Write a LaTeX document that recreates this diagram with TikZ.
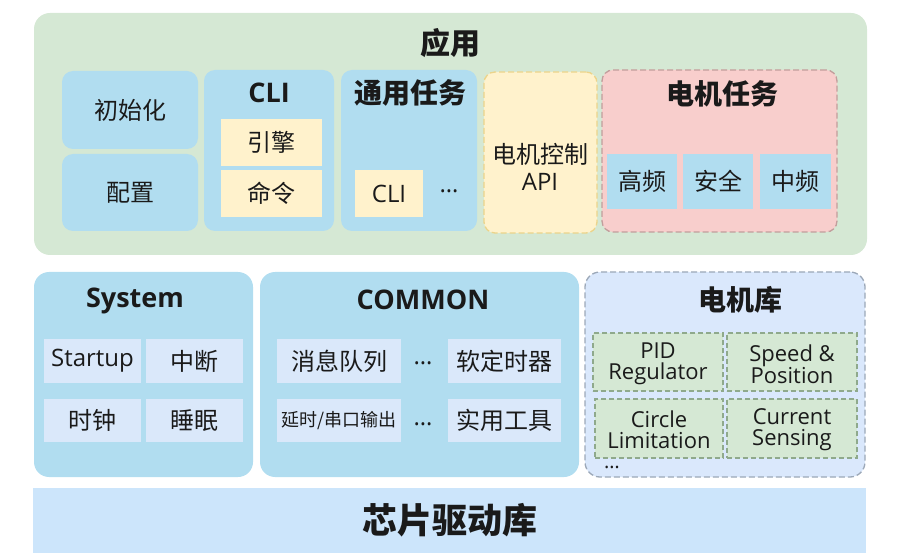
\documentclass[tikz,border=0pt]{standalone}
\usepackage{fontspec}
\setmainfont{Open Sans}
\newfontfamily\cjk{Noto Sans CJK SC}
\definecolor{cgreen}{HTML}{D5E8D4}
\definecolor{cblue}{HTML}{B1DDF0}
\definecolor{cyellow}{HTML}{FFF2CC}
\definecolor{cyellowline}{HTML}{ECD48A}
\definecolor{cpink}{HTML}{F8CECC}
\definecolor{cpinkline}{HTML}{C29E9C}
\definecolor{ccell}{HTML}{DAE8FA}
\definecolor{cml}{HTML}{DAE8FC}
\definecolor{cmlline}{HTML}{9CA8B8}
\definecolor{cmcell}{HTML}{D5E8D4}
\definecolor{cmcellline}{HTML}{8FA98C}
\definecolor{cchip}{HTML}{CCE5FB}
\definecolor{ctext}{HTML}{1A1A1A}
\newcommand\mybox[7]{%
  \node[#2,minimum width={(#5)-(#3)},minimum height={(#6)-(#4)}] (#1)
    at ({((#3)+(#5))/2},{((#4)+(#6))/2}) {#7};}
\begin{document}
\begin{tikzpicture}[x=1pt,y=-1pt,
  every node/.style={inner sep=0pt,outer sep=0pt,align=center,text=ctext},
  body/.style={font=\fontsize{24}{28}\selectfont},
  greenbg/.style={fill=cgreen,rounded corners=16pt},
  bluebox/.style={fill=cblue,rounded corners=11pt,body},
  ybox/.style={fill=cyellow,body},
  apibox/.style={fill=cyellow,draw=cyellowline,line width=1.3pt,dash pattern=on 6pt off 3pt,rounded corners=11pt},
  apitext/.style={font=\fontsize{24}{27}\selectfont},
  mtbox/.style={fill=cpink,draw=cpinkline,line width=1.3pt,dash pattern=on 6pt off 3pt,rounded corners=11pt},
  bluecell/.style={fill=cblue,body},
  bluebig/.style={fill=cblue,rounded corners=15pt},
  cell/.style={fill=ccell,body},
  mlbox/.style={fill=cml,draw=cmlline,line width=1.3pt,dash pattern=on 6pt off 3pt,rounded corners=15pt},
  mcell/.style={fill=cmcell,draw=cmcellline,line width=1.2pt,dash pattern=on 5pt off 3pt},
  mtext/.style={font=\fontsize{22}{21}\selectfont},
  chipbox/.style={fill=cchip,font=\fontsize{35}{38}\selectfont},
  title/.style={font=\fontsize{28}{32}\selectfont\bfseries},
  bigtitle/.style={font=\fontsize{30}{34}\selectfont\bfseries},
  title2/.style={font=\fontsize{27}{30}\selectfont\bfseries},
  dots/.style={font=\fontsize{24}{24}\selectfont},
  smalldots/.style={font=\fontsize{20}{20}\selectfont}]
\useasboundingbox (0,0) rectangle (900,556);
% application layer
\mybox{app}{greenbg}{34}{13}{867}{255}{}
\node[bigtitle] (appT) at (450,43) {\cjk 应用};
\mybox{init}{bluebox}{62}{71}{198}{149}{{\cjk 初始化}}
\mybox{cfg}{bluebox}{62}{154}{198}{231}{{\cjk 配置}}
\mybox{cli}{bluebox}{204}{70}{334}{231}{}
\node[title2] (cliT) at (269,93) {CLI};
\mybox{engine}{ybox}{221}{119}{322}{166}{{\cjk 引擎}}
\mybox{cmd}{ybox}{221}{170}{322}{217}{{\cjk 命令}}
\mybox{gen}{bluebox}{341}{70}{477}{231}{}
\node[title] (genT) at (410,93) {\cjk 通用任务};
\mybox{gencli}{ybox}{355}{170}{423}{217}{CLI}
\node[dots] (gendots) at (449,191) {…};
\mybox{api}{apibox}{484}{72}{597}{233}{}
\node[apitext] (apiT) at (540,167) {{\cjk 电机控制}\\API};
\mybox{mt}{mtbox}{602}{70}{837}{232}{}
\node[title] (mtT) at (722,94) {\cjk 电机任务};
\mybox{hf}{bluecell}{607}{154}{677}{209}{{\cjk 高频}}
\mybox{safe}{bluecell}{683}{154}{753}{209}{{\cjk 安全}}
\mybox{mf}{bluecell}{760}{154}{831}{209}{{\cjk 中频}}
% system
\mybox{sys}{bluebig}{34}{272}{253}{477}{}
\node[title2] (sysT) at (135,301) {System};
\mybox{startup}{cell}{44}{339}{141}{383}{Startup}
\mybox{irq}{cell}{146}{339}{243}{383}{{\cjk 中断}}
\mybox{clk}{cell}{44}{399}{141}{442}{{\cjk 时钟}}
\mybox{sleep}{cell}{146}{399}{243}{442}{{\cjk 睡眠}}
% common
\mybox{com}{bluebig}{260}{272}{579}{477}{}
\node[title2] (comT) at (423,300) {COMMON};
\mybox{msg}{cell}{277}{339}{401}{383}{{\cjk 消息队列}}
\node[dots] (d1) at (423,363) {…};
\mybox{tmr}{cell}{448}{339}{561}{383}{{\cjk 软定时器}}
\mybox{dly}{cell}{277}{399}{401}{442}{{\cjk\fontsize{18}{20}\selectfont 延时/串口输出}}
\node[dots] (d2) at (423,424) {…};
\mybox{util}{cell}{448}{399}{561}{442}{{\cjk 实用工具}}
% motor library
\mybox{ml}{mlbox}{585}{272}{865}{477}{}
\node[title] (mlT) at (740,300) {\cjk 电机库};
\mybox{pid}{mcell}{593}{333}{723}{391}{}
\node[mtext] (pidT) at (658,364) {PID\\Regulator};
\mybox{spd}{mcell}{727}{333}{857}{391}{}
\node[mtext] (spdT) at (792,364) {Speed \&\\Position};
\mybox{circ}{mcell}{595}{399}{723}{458}{}
\node[mtext] (circT) at (659,430) {Circle\\Limitation};
\mybox{cur}{mcell}{727}{399}{857}{458}{}
\node[mtext] (curT) at (792,430) {Current\\Sensing};
\node[smalldots] (d3) at (612,467) {…};
% chip driver
\mybox{chip}{chipbox}{33}{488}{866}{553}{{\cjk\bfseries 芯片驱动库}}
\end{tikzpicture}
\end{document}
